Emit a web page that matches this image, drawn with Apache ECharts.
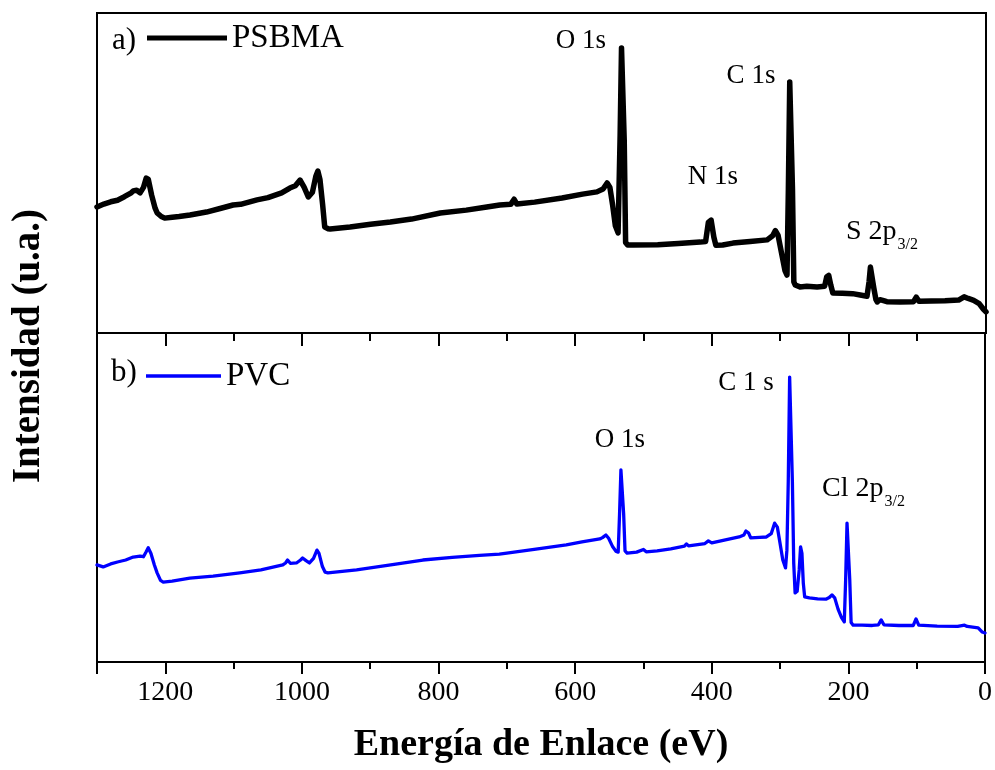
<!DOCTYPE html>
<html>
<head>
<meta charset="utf-8">
<script src="https://cdn.jsdelivr.net/npm/echarts@6/dist/echarts.min.js"></script>
<style>
  html, body { margin: 0; padding: 0; background: #fff; }
  #chart { width: 995px; height: 770px; }
</style>
</head>
<body>
<div id="chart"></div>
<script>
// XPS survey spectra: binding energy (eV) vs. intensity (arbitrary units)
const energyTickLabels = [0, 200, 400, 600, 800, 1000, 1200];

// a) PSBMA survey
const psbmaEnergy = [
  1300, 1290, 1280, 1270, 1260, 1250, 1247, 1242, 1237, 1232, 1228, 1225, 1220, 1215, 1212, 1206, 1201,
  1190, 1180, 1164, 1140, 1120, 1101, 1090, 1066, 1050, 1030, 1018, 1010, 1003, 997, 991, 985, 980, 977,
  974, 970, 967, 962, 959, 930, 900, 871, 840, 798, 760, 730, 711, 695, 690, 686, 660, 620, 590, 569,
  560, 554, 550, 546, 542, 538, 535, 533, 531, 529, 527, 524, 516, 480, 450, 418, 410, 406, 402, 398,
  395, 385, 370, 345, 320, 312, 308, 304, 299, 294, 291, 289, 287, 285, 283, 281, 279, 272, 262, 247,
  236, 233, 230, 227, 224, 210, 195, 184, 174, 171, 169, 167, 164, 161, 159, 155, 151, 145, 126, 106,
  102, 98, 80, 60, 40, 32, 26, 18, 10, 4, 0
];
const psbmaCounts = [
  39.4, 40.3, 41.0, 41.5, 42.6, 43.8, 44.4, 44.6, 43.8, 45.5, 48.4, 48.0, 43.0, 39.0, 37.5, 36.4, 35.9,
  36.2, 36.4, 36.9, 37.8, 38.9, 40.0, 40.2, 41.6, 42.3, 43.8, 45.3, 46.0, 47.8, 45.5, 42.5, 44.0, 49.0, 50.6,
  48.0, 40.0, 33.1, 32.6, 32.5, 33.1, 34.0, 34.7, 35.6, 37.5, 38.4, 39.4, 40.0, 40.2, 41.8, 40.3, 40.9, 42.2, 43.4, 44.1,
  45.0, 46.9, 45.5, 40.0, 33.5, 31.3, 62.0, 89.1, 89.0, 60.0, 28.3, 27.5, 27.5, 27.6, 28.0, 28.4, 28.6, 34.6, 35.3, 30.0,
  27.4, 27.5, 28.1, 28.6, 29.1, 30.4, 32.0, 30.5, 25.0, 19.5, 18.1, 45.0, 78.4, 78.0, 45.0, 16.0, 15.0, 14.4, 14.6, 14.4,
  14.6, 17.5, 18.0, 15.0, 12.5, 12.4, 12.3, 11.9, 11.5, 16.0, 20.6, 20.4, 14.0, 10.5, 9.7, 10.4, 10.2, 9.8, 9.7, 9.8,
  11.2, 9.9, 10.0, 10.1, 10.3, 11.3, 10.8, 10.2, 9.2, 7.5, 6.6
];

// b) PVC survey
const pvcEnergy = [
  1300, 1291, 1280, 1270, 1258, 1247, 1237, 1232, 1228, 1225, 1221, 1216, 1212, 1207, 1203, 1190, 1164,
  1130, 1091, 1060, 1028, 1024, 1021, 1017, 1008, 1002, 999, 994, 989, 983, 978, 975, 970, 966, 962,
  920, 870, 823, 780, 740, 711, 700, 660, 613, 590, 564, 560, 555, 551, 545, 540, 537, 535, 533, 531,
  529, 527, 524, 510, 500, 496, 480, 460, 440, 437, 434, 410, 405, 400, 380, 360, 353, 350, 346, 343,
  330, 320, 313, 308, 304, 300, 296, 292, 290, 288, 286, 284, 282, 280, 278, 275, 272, 270, 268, 266,
  264, 257, 245, 233, 228, 224, 220, 215, 210, 206, 204, 202, 200, 198, 196, 193, 180, 165, 156, 152,
  148, 126, 105, 101, 97, 70, 40, 30, 26, 10, 4, 0
];
const pvcCounts = [
  29.5, 28.9, 29.8, 30.4, 31.0, 31.9, 32.2, 32.0, 33.5, 34.7, 33.0, 29.5, 27.1, 24.8, 24.3, 24.6, 25.5,
  26.1, 27.1, 28.0, 29.5, 30.1, 31.0, 30.0, 30.1, 31.0, 31.6, 30.8, 30.1, 31.5, 34.0, 33.0, 29.0, 27.3, 27.1,
  28.0, 29.5, 31.0, 31.8, 32.4, 32.8, 33.1, 34.2, 35.6, 36.5, 37.4, 37.8, 38.6, 37.6, 35.0, 33.6, 33.4, 45.0, 58.4, 58.2,
  45.0, 33.8, 33.1, 33.4, 34.2, 33.5, 33.8, 34.4, 35.2, 35.9, 35.3, 36.0, 36.8, 36.2, 37.1, 38.0, 38.6, 39.8, 39.2, 37.7,
  37.9, 38.0, 39.0, 42.2, 41.0, 36.0, 31.0, 28.6, 34.0, 55.0, 86.6, 86.0, 55.0, 30.0, 21.0, 21.5, 28.0, 35.0, 33.0, 24.0,
  19.8, 19.5, 19.2, 19.1, 19.6, 20.4, 19.5, 16.0, 13.5, 12.2, 25.0, 42.2, 42.0, 25.0, 12.0, 11.2, 11.2, 11.1, 11.3, 12.8,
  11.3, 11.1, 11.1, 13.1, 11.2, 10.9, 10.8, 11.2, 10.8, 10.4, 9.1, 8.8
];

const pair = (xs, ys) => xs.map((x, i) => [x, ys[i]]);

const SERIF = '"Liberation Serif", "Times New Roman", serif';
const GRID_LEFT = 97, GRID_W = 889;

// measure text so a subscript can sit right after its main label
const measureCtx = document.createElement('canvas').getContext('2d');
function textWidth(str, size) {
  measureCtx.font = size + 'px ' + SERIF;
  return measureCtx.measureText(str).width;
}

// label with a "3/2" subscript, starting at (x, y)
function subLabel(main, sub, x, y, size) {
  const w = textWidth(main, size);
  return [
    { type: 'text', x: x, y: y,
      style: { text: main, fontFamily: SERIF, fontSize: size, fill: '#000', align: 'left', verticalAlign: 'middle' } },
    { type: 'text', x: x + w + 1, y: y + 13,
      style: { text: sub, fontFamily: SERIF, fontSize: 16, fill: '#000', align: 'left', verticalAlign: 'middle' } }
  ];
}

function label(str, x, y) {
  return { type: 'text', x: x, y: y,
    style: { text: str, fontFamily: SERIF, fontSize: 27, fill: '#000', align: 'center', verticalAlign: 'middle' } };
}

const chart = echarts.init(document.getElementById('chart'), null, { renderer: 'canvas' });

const hiddenX = (grid, extra) => Object.assign({
  type: 'value', gridIndex: grid, min: 0, max: 1300, inverse: true,
  axisLine: { show: false }, axisLabel: { show: false }, axisTick: { show: false },
  splitLine: { show: false }
}, extra);

const option = {
  backgroundColor: '#fff',
  animation: false,
  grid: [
    { left: GRID_LEFT, top: 13, width: GRID_W, height: 320, show: true,
      borderColor: '#000', borderWidth: 2, backgroundColor: 'transparent' },
    { left: GRID_LEFT, top: 333, width: GRID_W, height: 329, show: true,
      borderColor: '#000', borderWidth: 2, backgroundColor: 'transparent' }
  ],
  xAxis: [
    hiddenX(0),
    // bottom axis: major ticks + labels
    {
      type: 'value', gridIndex: 1, position: 'bottom', min: 0, max: 1300, interval: 200, inverse: true,
      name: 'Energía de Enlace (eV)', nameLocation: 'middle', nameGap: 64,
      nameTextStyle: { fontFamily: SERIF, fontWeight: 'bold', fontSize: 38, color: '#000' },
      axisLine: { show: true, lineStyle: { color: '#000', width: 2 } },
      axisTick: { show: true, inside: false, length: 12, lineStyle: { color: '#000', width: 2 } },
      axisLabel: {
        show: true, margin: 17, fontFamily: SERIF, fontSize: 28, color: '#000',
        formatter: v => (energyTickLabels.indexOf(v) >= 0 ? String(v) : '')
      },
      splitLine: { show: false }
    },
    // bottom axis: minor ticks
    hiddenX(1, { position: 'bottom', interval: 100,
      axisTick: { show: true, inside: false, length: 7, lineStyle: { color: '#000', width: 2 } } }),
    // top of lower panel: major ticks (inward)
    hiddenX(1, { position: 'top', interval: 200,
      axisTick: { show: true, inside: true, length: 13, lineStyle: { color: '#000', width: 2 } } }),
    // top of lower panel: minor ticks (inward)
    hiddenX(1, { position: 'top', interval: 100,
      axisTick: { show: true, inside: true, length: 8, lineStyle: { color: '#000', width: 2 } } })
  ],
  yAxis: [
    { type: 'value', gridIndex: 0, min: 0, max: 100, show: false, splitLine: { show: false } },
    { type: 'value', gridIndex: 1, min: 0, max: 100, show: false, splitLine: { show: false } }
  ],
  legend: [
    {
      data: ['PSBMA'], left: 147, top: 20, padding: 0, selectedMode: false,
      icon: 'rect', itemWidth: 80, itemHeight: 5,
      textStyle: { fontFamily: SERIF, fontSize: 33, color: '#000', lineHeight: 36 }
    },
    {
      data: ['PVC'], left: 146, top: 358, padding: 0, selectedMode: false,
      icon: 'rect', itemWidth: 75, itemHeight: 3.5,
      textStyle: { fontFamily: SERIF, fontSize: 33, color: '#000', lineHeight: 36 }
    }
  ],
  series: [
    {
      name: 'PSBMA', type: 'line', xAxisIndex: 0, yAxisIndex: 0,
      data: pair(psbmaEnergy, psbmaCounts), showSymbol: false, symbol: 'none',
      itemStyle: { color: '#000' },
      lineStyle: { color: '#000', width: 5.5, join: 'round', cap: 'round' }
    },
    {
      name: 'PVC', type: 'line', xAxisIndex: 1, yAxisIndex: 1,
      data: pair(pvcEnergy, pvcCounts), showSymbol: false, symbol: 'none',
      itemStyle: { color: '#0000ff' },
      lineStyle: { color: '#0000ff', width: 3.3, join: 'round', cap: 'round' }
    }
  ],
  graphic: [
    // vertical axis title
    { type: 'text', x: 29, y: 346, rotation: Math.PI / 2,
      style: { text: 'Intensidad (u.a.)', fontFamily: SERIF, fontWeight: 'bold', fontSize: 39,
               fill: '#000', align: 'center', verticalAlign: 'middle' } },
    // panel tags
    { type: 'text', x: 112, y: 41,
      style: { text: 'a)', fontFamily: SERIF, fontSize: 31, fill: '#000', align: 'left', verticalAlign: 'middle' } },
    { type: 'text', x: 111, y: 373,
      style: { text: 'b)', fontFamily: SERIF, fontSize: 31, fill: '#000', align: 'left', verticalAlign: 'middle' } },
    // peak assignments, upper panel
    label('O 1s', 581, 41),
    label('C 1s', 751, 76),
    label('N 1s', 713, 177),
    ...subLabel('S 2p', '3/2', 846, 232, 28),
    // peak assignments, lower panel
    label('C 1 s', 746, 383),
    label('O 1s', 620, 440),
    ...subLabel('Cl 2p', '3/2', 822, 489, 28)
  ]
};

chart.setOption(option);
</script>
</body>
</html>
